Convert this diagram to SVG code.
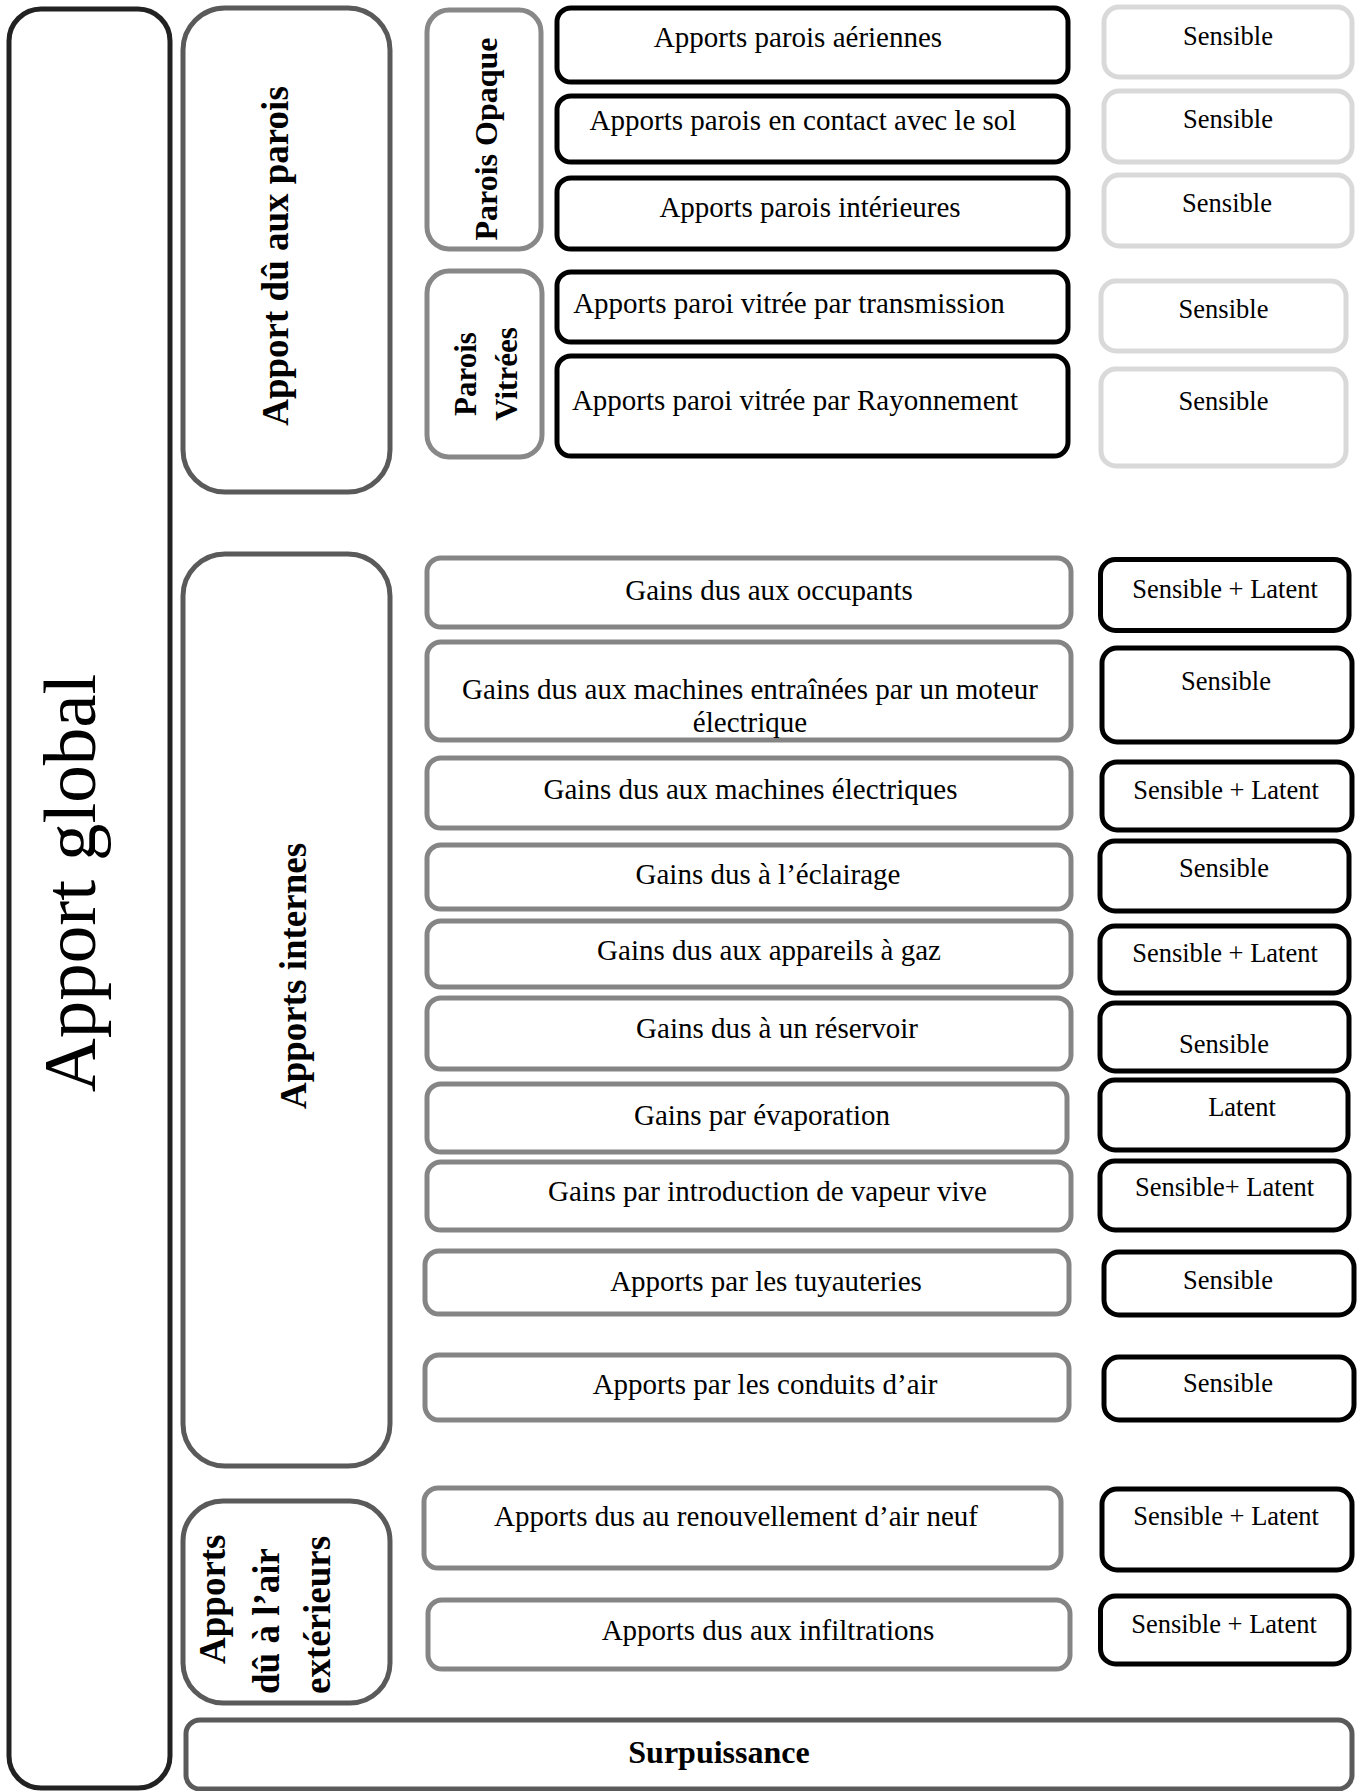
<svg xmlns="http://www.w3.org/2000/svg" width="1365" height="1791" viewBox="0 0 1365 1791">
<style>
  rect { fill: #ffffff; }
  .global { stroke: #222222; stroke-width: 5; }
  .group { stroke: #5a5a5a; stroke-width: 5; }
  .sub { stroke: #888888; stroke-width: 5; }
  .blk { stroke: #000000; stroke-width: 5; }
  .lgt { stroke: #d9d9d9; stroke-width: 5; }
  .gry { stroke: #858585; stroke-width: 5; }
  text { font-family: "Liberation Serif", "Times New Roman", serif; fill: #000000; }
  .m { font-size: 29px; text-anchor: middle; }
  .r { font-size: 26.5px; text-anchor: middle; }
  .b { font-weight: bold; }
</style>

<g id="connectors"></g>

<g id="apport-global">
  <rect class="global" x="9" y="9" width="161" height="1779" rx="32"/>
  <text transform="translate(95,883) rotate(-90)" font-size="75" text-anchor="middle">Apport global</text>
</g>

<g id="apport-parois">
  <rect class="group" x="183" y="8" width="207" height="484" rx="42"/>
  <text class="b" transform="translate(288,256) rotate(-90)" font-size="37" text-anchor="middle">Apport dû aux parois</text>
</g>

<g id="parois-opaque">
  <rect class="sub" x="427" y="10" width="114" height="239" rx="22"/>
  <text class="b" transform="translate(497,139) rotate(-90)" font-size="32" text-anchor="middle">Parois Opaque</text>
</g>

<g id="parois-vitrees">
  <rect class="sub" x="427" y="271" width="115" height="186" rx="22"/>
  <text class="b" transform="translate(476,374) rotate(-90)" font-size="31" text-anchor="middle">Parois</text>
  <text class="b" transform="translate(517,374) rotate(-90)" font-size="31" text-anchor="middle">Vitrées</text>
</g>

<g id="apports-internes">
  <rect class="group" x="183" y="554" width="207" height="912" rx="42"/>
  <text class="b" transform="translate(306,976) rotate(-90)" font-size="37" text-anchor="middle">Apports internes</text>
</g>

<g id="apports-air">
  <rect class="group" x="183" y="1501" width="207" height="202" rx="40"/>
  <text class="b" transform="translate(225,1664) rotate(-90)" font-size="37">Apports</text>
  <text class="b" transform="translate(279,1694) rotate(-90)" font-size="37">dû à l’air</text>
  <text class="b" transform="translate(330,1694) rotate(-90)" font-size="37">extérieurs</text>
</g>

<g id="surpuissance">
  <rect class="group" x="186" y="1720" width="1166" height="69" rx="14"/>
  <text class="b" x="719" y="1763" font-size="32" text-anchor="middle">Surpuissance</text>
</g>

<!-- Parois: middle column -->
<g id="b1"><rect class="blk" x="557" y="8" width="511" height="74" rx="14"/><text class="m" x="798" y="47">Apports parois aériennes</text></g>
<g id="b2"><rect class="blk" x="557" y="96" width="511" height="66" rx="14"/><text class="m" x="803" y="130">Apports parois en contact avec le sol</text></g>
<g id="b3"><rect class="blk" x="557" y="178" width="511" height="71" rx="14"/><text class="m" x="810" y="217">Apports parois intérieures</text></g>
<g id="b4"><rect class="blk" x="557" y="272" width="511" height="70" rx="14"/><text class="m" x="789" y="313">Apports paroi vitrée par transmission</text></g>
<g id="b5"><rect class="blk" x="557" y="356" width="511" height="100" rx="14"/><text class="m" x="795" y="410">Apports paroi vitrée par Rayonnement</text></g>

<!-- Parois: right column -->
<g id="r1"><rect class="lgt" x="1104" y="7" width="248" height="70" rx="15"/><text class="r" x="1228" y="45">Sensible</text></g>
<g id="r2"><rect class="lgt" x="1104" y="91" width="248" height="71" rx="15"/><text class="r" x="1228" y="128">Sensible</text></g>
<g id="r3"><rect class="lgt" x="1104" y="175" width="248" height="71" rx="15"/><text class="r" x="1227" y="212">Sensible</text></g>
<g id="r4"><rect class="lgt" x="1101" y="281" width="245" height="70" rx="15"/><text class="r" x="1223.5" y="318">Sensible</text></g>
<g id="r5"><rect class="lgt" x="1101" y="369" width="245" height="97" rx="15"/><text class="r" x="1223.5" y="410">Sensible</text></g>

<!-- Internes: middle column -->
<g id="g1"><rect class="gry" x="427" y="558" width="644" height="69" rx="14"/><text class="m" x="769" y="599.5">Gains dus aux occupants</text></g>
<g id="g2"><rect class="gry" x="427" y="642" width="644" height="98" rx="14"/><text class="m" x="750" y="698.5">Gains dus aux machines entraînées par un moteur</text><text class="m" x="750" y="732">électrique</text></g>
<g id="g3"><rect class="gry" x="427" y="758" width="644" height="70" rx="14"/><text class="m" x="750.5" y="799">Gains dus aux machines électriques</text></g>
<g id="g4"><rect class="gry" x="427" y="845" width="644" height="64" rx="14"/><text class="m" x="768" y="884">Gains dus à l’éclairage</text></g>
<g id="g5"><rect class="gry" x="427" y="921" width="644" height="66" rx="14"/><text class="m" x="769" y="960">Gains dus aux appareils à gaz</text></g>
<g id="g6"><rect class="gry" x="427" y="998" width="644" height="71" rx="14"/><text class="m" x="777" y="1038">Gains dus à un réservoir</text></g>
<g id="g7"><rect class="gry" x="427" y="1084" width="640" height="68" rx="14"/><text class="m" x="762" y="1125">Gains par évaporation</text></g>
<g id="g8"><rect class="gry" x="427" y="1162" width="644" height="68" rx="14"/><text class="m" x="767.5" y="1201">Gains par introduction de vapeur vive</text></g>
<g id="g9"><rect class="gry" x="425" y="1251" width="644" height="63" rx="14"/><text class="m" x="766" y="1290.5">Apports par les tuyauteries</text></g>
<g id="g10"><rect class="gry" x="425" y="1355" width="644" height="65" rx="14"/><text class="m" x="765" y="1394">Apports par les conduits d’air</text></g>
<g id="a1"><rect class="gry" x="424" y="1488" width="637" height="80" rx="14"/><text class="m" x="736" y="1526">Apports dus au renouvellement d’air neuf</text></g>
<g id="a2"><rect class="gry" x="428" y="1600" width="642" height="69" rx="14"/><text class="m" x="768" y="1640">Apports dus aux infiltrations</text></g>

<!-- Internes: right column -->
<g id="s1"><rect class="blk" x="1100.5" y="559.5" width="248.5" height="71" rx="15"/><text class="r" x="1225" y="598">Sensible + Latent</text></g>
<g id="s2"><rect class="blk" x="1102" y="648" width="250" height="94" rx="15"/><text class="r" x="1226" y="689.5">Sensible</text></g>
<g id="s3"><rect class="blk" x="1102" y="762" width="250" height="68" rx="15"/><text class="r" x="1226" y="799">Sensible + Latent</text></g>
<g id="s4"><rect class="blk" x="1100" y="841" width="249" height="70" rx="15"/><text class="r" x="1224" y="877">Sensible</text></g>
<g id="s5"><rect class="blk" x="1100" y="926" width="249" height="67" rx="15"/><text class="r" x="1225" y="962">Sensible + Latent</text></g>
<g id="s6"><rect class="blk" x="1100" y="1003" width="249" height="68" rx="15"/><text class="r" x="1224" y="1053">Sensible</text></g>
<g id="s7"><rect class="blk" x="1100" y="1080" width="248" height="70" rx="15"/><text class="r" x="1242" y="1116">Latent</text></g>
<g id="s8"><rect class="blk" x="1100" y="1161" width="249" height="69" rx="15"/><text class="r" x="1224.5" y="1196">Sensible+ Latent</text></g>
<g id="s9"><rect class="blk" x="1104" y="1252" width="250" height="63" rx="15"/><text class="r" x="1228" y="1289">Sensible</text></g>
<g id="s10"><rect class="blk" x="1104" y="1357" width="250" height="63" rx="15"/><text class="r" x="1228" y="1392">Sensible</text></g>
<g id="s11"><rect class="blk" x="1102" y="1489" width="250" height="81" rx="15"/><text class="r" x="1226" y="1525">Sensible + Latent</text></g>
<g id="s12"><rect class="blk" x="1100.5" y="1596" width="248.5" height="68" rx="15"/><text class="r" x="1224" y="1633">Sensible + Latent</text></g>
</svg>
